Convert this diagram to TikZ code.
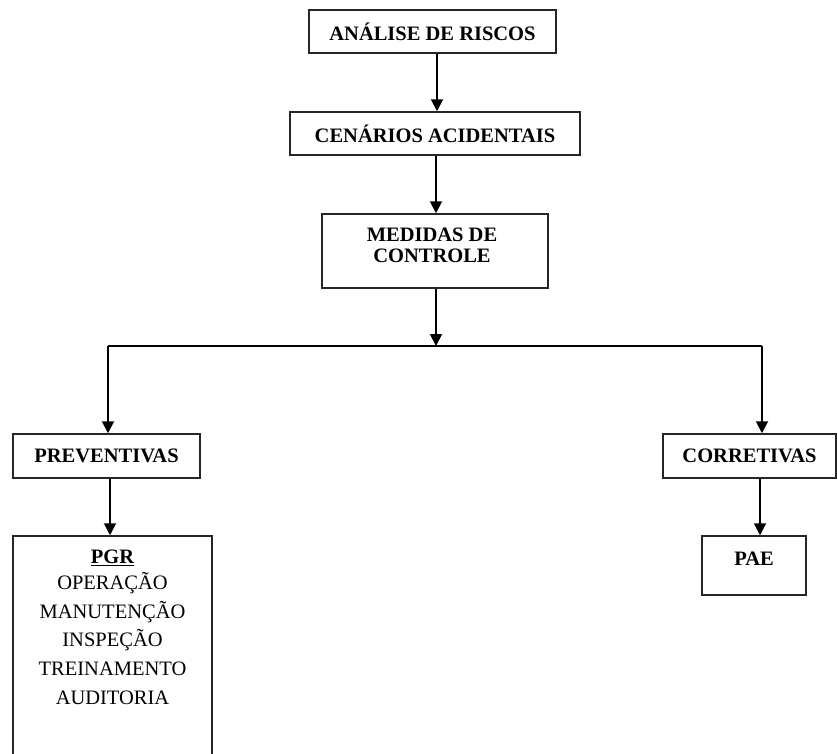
\documentclass[tikz,border=0pt]{standalone}
\usepackage{fontspec}
\setmainfont{Liberation Serif}
\usetikzlibrary{arrows.meta}
\begin{document}
\begin{tikzpicture}[x=1pt,y=-1pt,
  box/.style={draw=black!85, line width=1.5pt, inner sep=0pt},
  head/.style={font=\fontsize{20.5}{21}\selectfont\bfseries, align=center, inner sep=0pt},
  item/.style={font=\fontsize{20.5}{28.7}\selectfont, align=center, inner sep=0pt},
  arr/.style={line width=1.9pt, -{Triangle[width=12pt,length=12pt]}},
  ln/.style={line width=1.6pt}]
\useasboundingbox (0,0) rectangle (838,753);
\clip (0,0) rectangle (838,753);
% boxes
\node[box, minimum width=247pt, minimum height=43pt, head] (a) at (432.5,31.5) {ANÁLISE DE RISCOS};
\node[box, minimum width=290pt, minimum height=43pt, head] (b) at (435,133.5) {CENÁRIOS ACIDENTAIS};
\node[box, minimum width=226pt, minimum height=74pt] (c) at (435,251) {};
\node[head, anchor=base] (ct) at (432,262) {MEDIDAS DE\\CONTROLE};
\node[box, minimum width=187pt, minimum height=44pt, head] (p) at (106.5,456) {PREVENTIVAS};
\node[box, minimum width=173pt, minimum height=44pt, head] (r) at (749.5,456) {CORRETIVAS};
\node[box, minimum width=199pt, minimum height=240pt] (g) at (112.5,656) {};
\node[item, anchor=north] (gt) at (112.5,550) {\textbf{\underline{PGR}}\\[-3pt]OPERAÇÃO\\MANUTENÇÃO\\INSPEÇÃO\\TREINAMENTO\\AUDITORIA};
\node[box, minimum width=104pt, minimum height=59pt] (e) at (754,565.5) {};
\node[head, anchor=base] (et) at (754,565) {PAE};
% connectors
\coordinate (j) at (436,346);
\coordinate (jl) at (108,346);
\coordinate (jr) at (762,346);
\draw[arr] (a.south -| 437,0) -- (b.north -| 437,0);
\draw[arr] (b.south -| 436,0) -- (c.north -| 436,0);
\draw[arr] (c.south -| j) -- (j);
\draw[ln] (jl) -- (jr);
\draw[arr] (jl) -- (p.north -| jl);
\draw[arr] (jr) -- (r.north -| jr);
\draw[arr] (p.south -| 110,0) -- (g.north -| 110,0);
\draw[arr] (r.south -| 760,0) -- (e.north -| 760,0);
\end{tikzpicture}
\end{document}
